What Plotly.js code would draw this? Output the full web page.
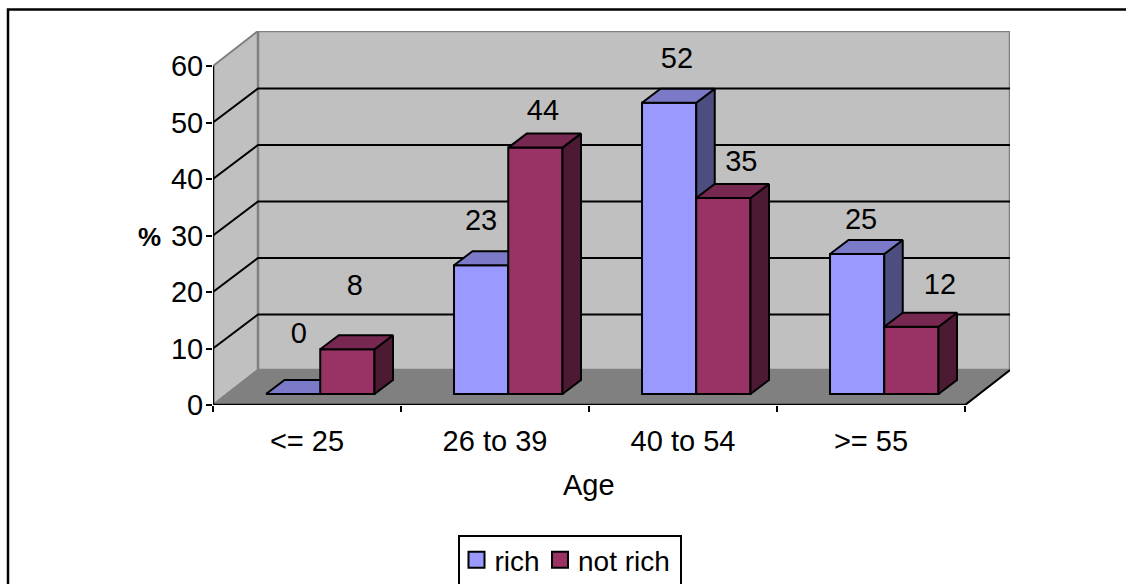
<!DOCTYPE html>
<html>
<head>
<meta charset="utf-8">
<script src="https://cdn.plot.ly/plotly-3.0.1.min.js"></script>
<style>html,body{margin:0;padding:0;background:#fff;overflow:hidden}</style>
</head>
<body>
<div id="chart" style="width:1126px;height:584px"></div>
<script>
// ---- data ----
const categories = ['<= 25', '26 to 39', '40 to 54', '>= 55'];
const rich = [0, 23, 52, 25];
const notRich = [8, 44, 35, 12];
const yTicks = [0, 10, 20, 30, 40, 50, 60];

// ---- label placement (value units above the bar, category units along x) ----
const richLabelLift = [12.3, 9.5, 9.5, 7.7];
const notRichLabelLift = [13, 8.2, 8.1, 9.1];
const richLabelX = [0.457, 0.426, 0.468, 0.447];
const notRichLabelX = [0.755, 0.755, 0.81, 0.867];

// ---- 3D look (axis units) ----
const W = 1126, H = 584;
const M = {l: 213, r: 116, t: 31, b: 179};
const catPx = 188, wallUnitPx = 5.65, barUnitPx = 5.6;
const plotH = H - M.t - M.b, plotW = W - M.l - M.r;
const wallDX = 45 / catPx, wallDY = 35 / wallUnitPx, gridDY = 34 / wallUnitPx;
const xRange = [0, plotW / catPx];
const yRange = [0, plotH / wallUnitPx];
const yBarRange = [0, plotH / barUnitPx];
const barBase = 11 / barUnitPx, barDX = 18.5 / catPx, barDY = 14 / barUnitPx;
const richLeft = 0.282, barW = 0.2885, notRichLeft = richLeft + barW;
const FONT = 'Liberation Sans, Arial, sans-serif', FS = 29;

const colors = {
  wall: '#c0c0c0', floor: '#808080', edge: '#808080',
  rich: '#9999ff', richTop: '#7a7ac8', richSide: '#4d4d80',
  notRich: '#993366', notRichTop: '#772850', notRichSide: '#4d1a33'
};

const traces = [];
function poly(xs, ys, fill, lineColor, lineW, ax) {
  traces.push({
    type: 'scatter', mode: 'lines', x: xs, y: ys, xaxis: ax[0], yaxis: ax[1],
    fill: fill ? 'toself' : 'none', fillcolor: fill || undefined,
    line: {color: lineColor, width: lineW}, showlegend: false, hoverinfo: 'skip', cliponaxis: false
  });
}
const L1 = ['x', 'y'], L2 = ['x2', 'y2'], L3 = ['x3', 'y3'], L4 = ['x4', 'y4'];

// walls
const top60 = 60;
poly([0, wallDX, wallDX, 0, 0], [top60, top60 + wallDY, wallDY, 0, top60], colors.wall, colors.edge, 2, L1);
poly([wallDX, xRange[1], xRange[1], wallDX, wallDX], [wallDY, wallDY, top60 + wallDY, top60 + wallDY, wallDY], colors.wall, colors.edge, 2.5, L1);
// gridlines
yTicks.slice(1, -1).forEach(v => {
  poly([0, wallDX, xRange[1]], [v, v + gridDY, v + gridDY], null, '#000', 2, L1);
});
// floor
poly([0, 4, xRange[1], wallDX, 0], [0, 0, wallDY, wallDY, 0], colors.floor, colors.edge, 2, L1);
poly([4, xRange[1]], [0, wallDY], null, '#000', 2, L1);
poly([0, 4], [0, 0], null, '#000', 2.5, L1);
poly([0, 0], [0, 60], null, '#000', 2.5, L1);

// bars: front faces through bar traces, top and side faces from the same values
function addBars(name, vals, left, front, topC, sideC, ax) {
  traces.push({
    type: 'bar', name: name, x: categories.map((c, i) => i), y: vals, base: vals.map(() => barBase),
    offset: left, width: barW, xaxis: ax[0], yaxis: ax[1],
    marker: {color: front, line: {color: '#000', width: 2}}, hoverinfo: 'y'
  });
  vals.forEach((v, i) => {
    const x0 = i + left, x1 = x0 + barW, y0 = barBase, y1 = barBase + v;
    poly([x1, x1 + barDX, x1 + barDX, x1, x1], [y0, y0 + barDY, y1 + barDY, y1, y0], sideC, '#000', 2, ax);
    poly([x0, x0 + barDX, x1 + barDX, x1, x0], [y1, y1 + barDY, y1 + barDY, y1, y1], topC, '#000', 2, ax);
  });
}
addBars('rich', rich, richLeft, colors.rich, colors.richTop, colors.richSide, L2);
addBars('not rich', notRich, notRichLeft, colors.notRich, colors.notRichTop, colors.notRichSide, L3);

// value labels
function addLabels(vals, xo, lift) {
  traces.push({
    type: 'scatter', mode: 'text', xaxis: 'x4', yaxis: 'y4', showlegend: false, hoverinfo: 'skip', cliponaxis: false,
    x: vals.map((v, i) => i + xo[i]), y: vals.map((v, i) => v + lift[i]), text: vals.map(String),
    textposition: 'middle center', textfont: {family: FONT, size: FS, color: '#000'}
  });
}
addLabels(rich, richLabelX, richLabelLift);
addLabels(notRich, notRichLabelX, notRichLabelLift);

const hiddenX = n => ({overlaying: 'x', anchor: n, range: xRange, visible: false, fixedrange: true});
const hiddenY = (n, r) => ({overlaying: 'y', anchor: n, range: r, visible: false, fixedrange: true});
const paperX = px => (px - M.l) / plotW;
const paperY = py => (H - M.b - py) / plotH;

const layout = {
  width: W, height: H, margin: M, paper_bgcolor: '#fff', plot_bgcolor: 'rgba(0,0,0,0)',
  barmode: 'overlay', font: {family: FONT, size: FS, color: '#000'},
  xaxis: {
    range: xRange, tickmode: 'array', tickvals: categories.map((c, i) => i + 0.5), ticktext: categories,
    ticks: '', showgrid: false, zeroline: false, showline: false, fixedrange: true,
    tickfont: {family: FONT, size: FS}, ticklabelstandoff: 16,
    minor: {tickmode: 'array', tickvals: [0, 1, 2, 3, 4], ticks: 'outside', ticklen: 6, tickwidth: 2, tickcolor: '#000', showgrid: false}
  },
  yaxis: {
    range: yRange, tickmode: 'array', tickvals: yTicks, ticks: 'outside', ticklen: 6, tickwidth: 2, tickcolor: '#000',
    showgrid: false, zeroline: false, showline: false, fixedrange: true,
    tickfont: {family: FONT, size: FS}, ticklabelstandoff: -3
  },
  xaxis2: hiddenX('y2'), yaxis2: hiddenY('x2', yBarRange),
  xaxis3: hiddenX('y3'), yaxis3: hiddenY('x3', yBarRange),
  xaxis4: hiddenX('y4'), yaxis4: hiddenY('x4', yBarRange),
  legend: {
    orientation: 'h', x: 458 / W, xref: 'container', xanchor: 'left',
    y: 1 - 535 / H, yref: 'container', yanchor: 'top', traceorder: 'normal',
    borderwidth: 2, bordercolor: '#000', bgcolor: '#fff', font: {family: FONT, size: 28}, itemclick: false, itemdoubleclick: false
  },
  annotations: [{
    text: '<b>%</b>', xref: 'paper', yref: 'paper', x: paperX(149), y: paperY(237),
    showarrow: false, xanchor: 'center', yanchor: 'middle', font: {family: FONT, size: 26}
  }, {
    text: 'Age', xref: 'paper', yref: 'paper', x: paperX(589), y: paperY(485),
    showarrow: false, xanchor: 'center', yanchor: 'middle', font: {family: FONT, size: FS}
  }],
  shapes: [{
    type: 'path', xref: 'paper', yref: 'paper', layer: 'below', line: {color: '#000', width: 2.5},
    path: 'M ' + paperX(8) + ',' + paperY(H + 10) + ' L ' + paperX(8) + ',' + paperY(9.5) + ' L ' + paperX(W + 10) + ',' + paperY(9.5)
  }]
};

Plotly.newPlot('chart', traces, layout, {displayModeBar: false, staticPlot: true}).then(() => {
  // legend swatches and spacing as in the reference
  document.querySelectorAll('.legend .legendpoints path').forEach(p => p.setAttribute('d', 'M8,8H-8V-8H8Z'));
  const entryShift = [-1.5, 82];
  const entries = document.querySelectorAll('.legend .traces');
  entries.forEach((g, i) => {
    const m = /translate\(([^,]+),\s*([^)]+)\)/.exec(g.getAttribute('transform') || '');
    g.setAttribute('transform', 'translate(' + entryShift[i] + ',' + ((m ? +m[2] : 0) - 2) + ')');
  });
  document.querySelectorAll('.legend .legendtext').forEach(t => t.setAttribute('x', 38));
  const bg = document.querySelector('.legend .bg');
  if (bg) bg.setAttribute('width', 222);
});
</script>
</body>
</html>
